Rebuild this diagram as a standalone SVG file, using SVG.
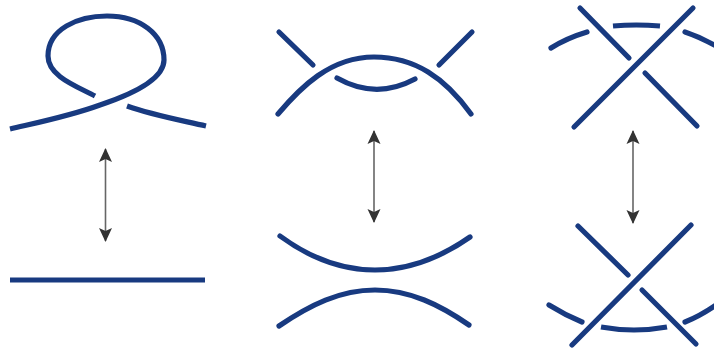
<svg xmlns="http://www.w3.org/2000/svg" width="714" height="349" viewBox="0 0 714 349">
<style>
.s{fill:none;stroke:#183a80;stroke-width:5.2}
.r{stroke-linecap:round}
.a{fill:none;stroke:#666;stroke-width:1.6;marker-start:url(#h);marker-end:url(#h)}
</style>
<defs>
<marker id="h" viewBox="0 0 14 14" refX="13" refY="7" markerUnits="userSpaceOnUse" markerWidth="14" markerHeight="14" orient="auto-start-reverse"><path d="M0 0.5L14 7L0 13.5L3 7Z" fill="#333"/></marker>
</defs>
<rect width="714" height="349" fill="#fff"/>
<g id="connectors">
<line class="a" x1="105.5" y1="149" x2="105.5" y2="241"/>
<line class="a" x1="374" y1="131" x2="374" y2="222"/>
<line class="a" x1="633" y1="131" x2="633" y2="223"/>
</g>
<g id="kink-top">
<path class="s" d="M95 96C76 86 48 76 48 56C48 29 78 16 107 16C140 16 164 34 164 60C164 80 130 95 100 105C70 116 40 122 10 129"/>
<path class="s" d="M127 106C152 115 180 120 206 126"/>
</g>
<g id="kink-bottom"><line class="s" x1="10" y1="280" x2="205" y2="280"/></g>
<g id="bigon-top">
<path class="s r" d="M279 32L313 65"/>
<path class="s r" d="M439 65L472 32"/>
<path class="s r" d="M278 114C300 88 330 57 374 57C415 57 445 78 471 114"/>
<path class="s r" d="M337 78Q376 100 415 79"/>
</g>
<g id="bigon-bottom">
<path class="s r" d="M280 236C310 258 340 270 375 270C410 270 440 258 470 237"/>
<path class="s r" d="M279 326C310 305 340 290 375 290C410 290 440 305 469 325"/>
</g>
<g id="triangle-top">
<path class="s r" d="M580 8L629 58"/>
<path class="s r" d="M574 127L693 8"/>
<path class="s r" d="M645 73L697 126"/>
<path class="s r" d="M551 48Q567 38 587 32"/>
<path class="s" d="M613 26Q636 24 660 26"/>
<path class="s r" d="M685 32Q700 37 716 46"/>
</g>
<g id="triangle-bottom">
<path class="s r" d="M578 226L628 275"/>
<path class="s r" d="M572 345L691 225"/>
<path class="s r" d="M642 290L696 344"/>
<path class="s r" d="M549 305Q565 315 582 322"/>
<path class="s" d="M601 327Q634 333 667 327"/>
<path class="s r" d="M685 322Q700 316 716 305"/>
</g>
</svg>
